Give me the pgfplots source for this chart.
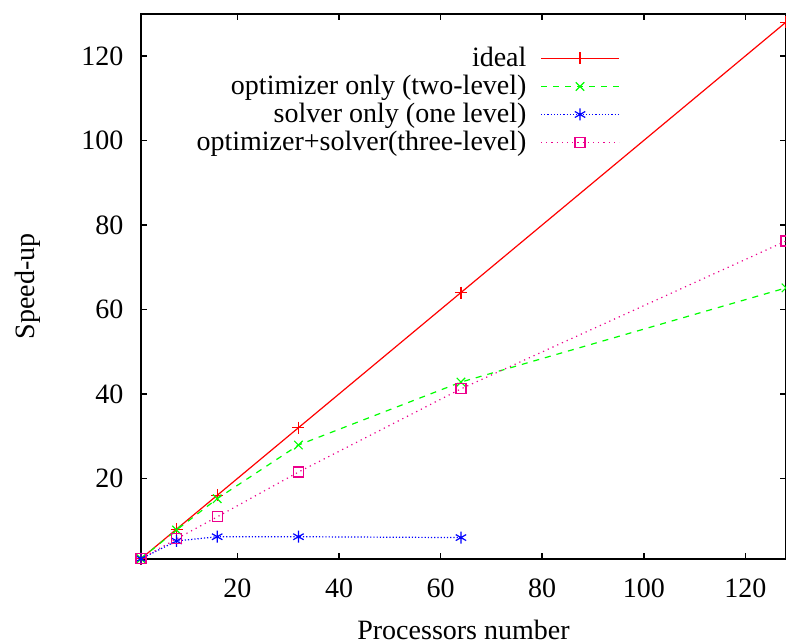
\documentclass[border=0pt]{standalone}
\usepackage{fontspec}
\setmainfont{Liberation Serif}
\usepackage{pgfplots}
\pgfplotsset{compat=1.18}

\begin{document}
\fontsize{14pt}{17pt}\selectfont
\begin{tikzpicture}
\useasboundingbox (-70.5pt,-42.15pt) rectangle (322.5pt,279.35pt);
\begin{axis}[
  scale only axis,
  width=322.5pt, height=272.5pt,
  xmin=1, xmax=128, ymin=1, ymax=130,
  xtick={20,40,...,120}, ytick={20,40,...,120},
  tick align=inside, major tick length=3pt,
  axis line style={line width=0.9pt},
  tick style={line width=0.8pt, black},
  /pgf/number format/assume math mode=true,
  tick label style={font=\fontsize{14pt}{17pt}\selectfont},
  xticklabel style={yshift=-5pt},
  yticklabel style={xshift=-4pt},
  xlabel={Processors number}, ylabel={Speed-up},
  label style={font=\fontsize{14pt}{17pt}\selectfont},
  xlabel style={at={(axis description cs:0.5,0)}, anchor=north, yshift=-26pt},
  ylabel style={at={(axis description cs:-0.175,0.5)}, anchor=center},
  legend style={at={(0.752,0.955)}, anchor=north east, draw=none, fill=none,
    font=\fontsize{14pt}{17pt}\selectfont, row sep=-1.8pt,
    /tikz/column 1/.style={column sep=5pt}},
  legend cell align=right,
  legend plot pos=right,
  legend image code/.code={
    \draw[mark repeat=2, mark phase=2, #1] plot coordinates {(0pt,0pt) (19.5pt,0pt) (39pt,0pt)};},
  every axis plot/.append style={line width=0.6pt},
  clip=false,
]
\addplot[color=red, mark=+, mark size=3pt, mark options={solid, draw=red}]
  coordinates {(1,1) (8,8) (16,16) (32,32) (64,64) (128,128)};
\addlegendentry{ideal}
\addplot[color=green, dashed, mark=x, mark size=3pt, mark options={solid, draw=green}]
  coordinates {(1,1) (8,7.8) (16,15.2) (32,27.9) (64,42.8) (128,65.1)};
\addlegendentry{optimizer only (two-level)}
\addplot[color=blue, densely dotted, mark=asterisk, mark size=3pt, mark options={solid, draw=blue}]
  coordinates {(1,1) (8,5.2) (16,6.2) (32,6.2) (64,6.0)};
\addlegendentry{solver only (one level)}
\addplot[color=magenta, dotted, mark=square, mark size=2.5pt, mark options={solid, draw=magenta}]
  coordinates {(1,1) (8,5.7) (16,10.9) (32,21.5) (64,41.2) (128,76.2)};
\addlegendentry{optimizer+solver(three-level)}
\end{axis}
\end{tikzpicture}
\end{document}
